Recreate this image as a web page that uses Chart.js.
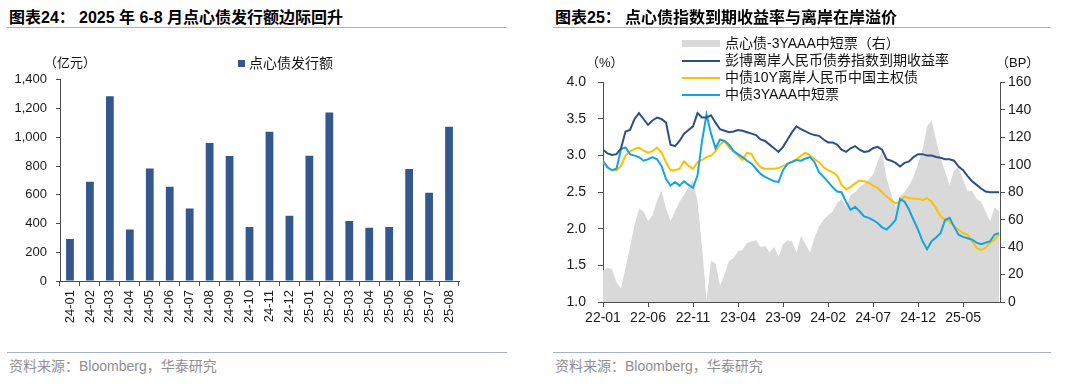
<!DOCTYPE html>
<html>
<head>
<meta charset="utf-8">
<script src="https://cdn.jsdelivr.net/npm/chart.js@4.4.0/dist/chart.umd.min.js"></script>
<style>
  body { margin: 0; width: 1080px; height: 384px; background: #fff; position: relative; overflow: hidden;
         font-family: "Liberation Sans", Arial, "Noto Sans CJK SC", sans-serif; color: #111; }
  .t { position: absolute; white-space: nowrap; line-height: 1; }
  .title { font-weight: bold; font-size: 16px; top: 10px; color: #000; }
  .rule { position: absolute; height: 1px; background: #A4B3C6; }
  .src { font-size: 14px; color: #8f8f8f; top: 359px; }
  .lg { font-size: 14px; }
  canvas { position: absolute; }
  .sw { position: absolute; }
</style>
</head>
<body>
<canvas id="bars" width="520" height="279" style="left:0;top:63px;width:520px;height:279px"></canvas>
<canvas id="lines" width="540" height="280" style="left:540px;top:62px;width:540px;height:280px"></canvas>

<!-- left panel text -->
<div class="t title" style="left:9px">图表24：</div>
<div class="t title" style="left:79px">2025 年 6-8 月点心债发行额边际回升</div>
<div class="rule" style="left:7px;width:500px;top:27px"></div>
<div class="t lg" style="left:44px;top:56px;font-size:13px">（亿元）</div>
<div class="sw" style="left:238px;top:60px;width:7px;height:7px;background:#34588D"></div>
<div class="t lg" style="left:249px;top:56px">点心债发行额</div>
<div class="rule" style="left:7px;width:500px;top:352px"></div>
<div class="t src" style="left:9px">资料来源：Bloomberg，华泰研究</div>

<!-- right panel text -->
<div class="t title" style="left:555px">图表25：</div>
<div class="t title" style="left:625px">点心债指数到期收益率与离岸在岸溢价</div>
<div class="rule" style="left:553px;width:498px;top:27px"></div>
<div class="sw" style="left:682px;top:40px;width:38px;height:7px;background:#D9D9D9"></div>
<div class="t lg" style="left:725px;top:36px">点心债-3YAAA中短票（右）</div>
<div class="sw" style="left:682px;top:60px;width:38px;height:2px;background:#2D4F86"></div>
<div class="t lg" style="left:725px;top:53px">彭博离岸人民币债券指数到期收益率</div>
<div class="sw" style="left:682px;top:77px;width:38px;height:2px;background:#FFC000"></div>
<div class="t lg" style="left:725px;top:70px">中债10Y离岸人民币中国主权债</div>
<div class="sw" style="left:682px;top:94px;width:38px;height:2px;background:#14A5DE"></div>
<div class="t lg" style="left:725px;top:87px">中债3YAAA中短票</div>
<div class="t lg" style="left:586px;top:56px;font-size:13px">（%）</div>
<div class="t lg" style="left:996px;top:56px;font-size:13px">（BP）</div>
<div class="rule" style="left:553px;width:498px;top:352px"></div>
<div class="t src" style="left:555px">资料来源：Bloomberg，华泰研究</div>

<script>
// ---- 图表24 data (亿元) ----
const barCats = ['24-01','24-02','24-03','24-04','24-05','24-06','24-07','24-08','24-09','24-10',
                 '24-11','24-12','25-01','25-02','25-03','25-04','25-05','25-06','25-07','25-08'];
const barVals = [292, 691, 1286, 359, 783, 656, 505, 960, 869, 375,
                 1038, 454, 871, 1173, 417, 371, 375, 779, 614, 1073];

// ---- 图表25 data, sampled every half month from 2022-01 ----
const monthStep = 0.5;
const xTicks = ['22-01','22-06','22-11','23-04','23-09','24-02','24-07','24-12','25-05'];
const yieldIdx = [3.08,3.03,3.01,3.02,3.10,3.33,3.35,3.50,3.58,3.50,
                  3.42,3.48,3.52,3.50,3.45,3.15,3.13,3.20,3.30,3.35,
                  3.40,3.58,3.52,3.52,3.55,3.45,3.36,3.34,3.32,3.33,
                  3.35,3.34,3.32,3.30,3.28,3.22,3.20,3.15,3.10,3.05,
                  3.12,3.22,3.32,3.40,3.36,3.33,3.30,3.28,3.27,3.22,
                  3.18,3.18,3.15,3.08,3.05,3.10,3.13,3.08,3.05,3.06,
                  3.10,3.12,3.08,2.95,2.93,2.90,2.85,2.90,2.92,2.98,
                  3.02,3.02,3.00,3.00,2.98,2.97,2.95,2.95,2.93,2.85,
                  2.80,2.72,2.65,2.60,2.55,2.51,2.50,2.50,2.50];
const cgb10y = [2.91,2.84,2.80,2.80,2.86,3.00,3.06,3.09,3.11,3.07,
                3.04,3.06,3.11,3.04,2.91,2.80,2.80,2.82,2.92,2.86,
                2.82,2.91,2.94,2.98,3.00,3.06,3.15,3.20,3.11,3.06,
                3.00,2.94,3.04,3.02,2.91,2.84,2.82,2.82,2.82,2.83,
                2.86,2.88,2.92,2.95,3.00,3.04,3.00,2.95,2.91,2.84,
                2.80,2.77,2.73,2.60,2.54,2.57,2.62,2.66,2.65,2.63,
                2.59,2.56,2.50,2.44,2.39,2.35,2.37,2.44,2.42,2.41,
                2.41,2.39,2.42,2.37,2.28,2.17,2.12,2.10,2.03,1.99,
                1.94,1.92,1.83,1.74,1.71,1.74,1.81,1.85,1.92];
const mtn3y = [2.93,2.84,2.80,2.82,3.09,3.11,3.02,3.00,2.98,2.93,
               2.95,2.98,2.95,2.86,2.68,2.59,2.64,2.59,2.65,2.60,
               2.56,2.73,3.20,3.56,3.30,3.10,3.22,3.20,3.15,3.06,
               3.02,2.98,2.93,2.89,2.82,2.75,2.71,2.68,2.65,2.64,
               2.80,2.89,2.91,2.94,2.93,2.96,2.98,2.91,2.77,2.71,
               2.64,2.57,2.51,2.50,2.37,2.26,2.30,2.24,2.17,2.15,
               2.12,2.08,2.02,1.99,2.05,2.12,2.41,2.37,2.26,2.12,
               1.99,1.83,1.72,1.83,1.88,1.94,2.12,2.15,2.03,1.92,
               1.89,1.87,1.85,1.81,1.79,1.81,1.83,1.92,1.94];
const spreadBp = [23,25,24,14,10,25,40,56,68,66,
                  59,63,74,81,68,59,66,73,78,84,
                  89,73,40,1,30,28,12,20,30,32,
                  37,38,43,44,45,40,41,36,40,33,
                  42,45,44,36,48,42,36,47,55,60,
                  63,66,72,75,69,78,80,84,86,89,
                  93,102,110,90,79,69,77,80,85,91,
                  101,111,128,132,118,105,95,85,96,98,
                  89,81,81,75,73,66,59,69,66];

Chart.defaults.font.family = '"Liberation Sans", Arial, "Noto Sans CJK SC", sans-serif';
Chart.defaults.color = '#1a1a1a';
Chart.defaults.animation = false;

const axisColor = '#4d4d4d';

new Chart(document.getElementById('bars'), {
  type: 'bar',
  data: {
    labels: barCats,
    datasets: [{ label: '点心债发行额', data: barVals, backgroundColor: '#34588D',
                 barPercentage: 0.39, categoryPercentage: 1 }]
  },
  options: {
    responsive: false,
    layout: { padding: { top: 2, right: 61, left: 0, bottom: 0 } },
    plugins: { legend: { display: false }, tooltip: { enabled: false } },
    scales: {
      x: {
        grid: { drawOnChartArea: false, tickLength: 5, color: axisColor },
        border: { color: axisColor },
        ticks: { minRotation: 90, maxRotation: 90, autoSkip: false, padding: 4, font: { size: 13 } },
        afterFit: s => { s.height = 61; }
      },
      y: {
        min: 0, max: 1400,
        grid: { drawOnChartArea: false, tickLength: 4, color: axisColor },
        border: { color: axisColor },
        ticks: { stepSize: 200, padding: 9, font: { size: 13 },
                 callback: v => v.toLocaleString('en-US') },
        afterFit: s => { s.width = 60; }
      }
    }
  }
});

const pts = arr => arr.map((v, i) => ({ x: i * monthStep, y: v }));

new Chart(document.getElementById('lines'), {
  type: 'line',
  data: {
    datasets: [
      { label: '彭博离岸人民币债券指数到期收益率', data: pts(yieldIdx), borderColor: '#2D4F86',
        borderWidth: 2, pointRadius: 0, yAxisID: 'y', order: 1 },
      { label: '中债3YAAA中短票', data: pts(mtn3y), borderColor: '#14A5DE',
        borderWidth: 2, pointRadius: 0, yAxisID: 'y', order: 2 },
      { label: '中债10Y离岸人民币中国主权债', data: pts(cgb10y), borderColor: '#FFC000',
        borderWidth: 2, pointRadius: 0, yAxisID: 'y', order: 3 },
      { label: '点心债-3YAAA中短票（右）', data: pts(spreadBp), borderWidth: 0,
        backgroundColor: '#D9D9D9', fill: 'origin', pointRadius: 0, yAxisID: 'y1', order: 4 }
    ]
  },
  options: {
    responsive: false,
    layout: { padding: { top: 2, right: 0, left: 0, bottom: 0 } },
    plugins: { legend: { display: false }, tooltip: { enabled: false } },
    scales: {
      x: {
        type: 'linear', min: 0, max: 44.1,
        grid: { drawOnChartArea: false, tickLength: 5, color: axisColor },
        border: { color: axisColor },
        ticks: { stepSize: 5, includeBounds: false, maxRotation: 0, padding: 3, font: { size: 14 },
                 callback: v => xTicks[v / 5] ?? '' },
        afterFit: s => { s.height = 40; }
      },
      y: {
        position: 'left', min: 1, max: 4,
        grid: { drawOnChartArea: false, tickLength: 5, color: axisColor },
        border: { color: axisColor },
        ticks: { stepSize: 0.5, padding: 12, font: { size: 14 }, callback: v => v.toFixed(1) },
        afterFit: s => { s.width = 63; }
      },
      y1: {
        position: 'right', min: 0, max: 160,
        grid: { drawOnChartArea: false, tickLength: 5, color: axisColor },
        border: { color: axisColor },
        ticks: { stepSize: 20, padding: 3, font: { size: 14 } },
        afterFit: s => { s.width = 80; }
      }
    }
  }
});
</script>
</body>
</html>
